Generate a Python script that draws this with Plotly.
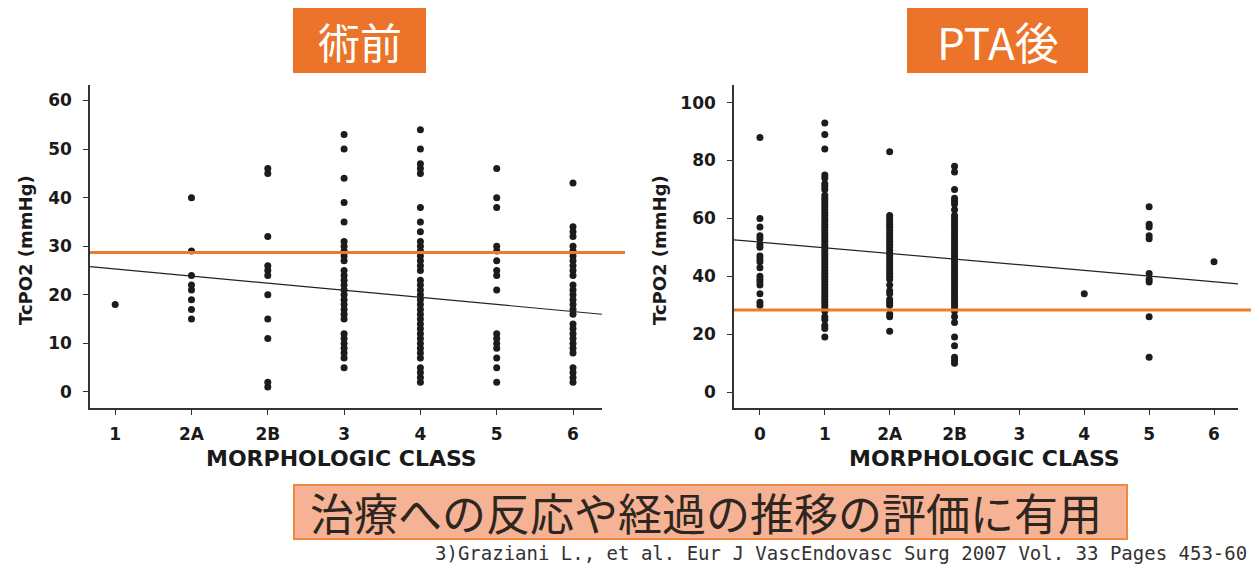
import plotly.graph_objects as go

W, H = 1251, 564

# ---------------- data: left panel (術前) ----------------
pre_classes = ["1", "2A", "2B", "3", "4", "5", "6"]
pre_1 = [18]
pre_2A = [40, 29, 24, 22, 21, 19, 17, 15]
pre_2B = [46, 45, 32, 26, 25, 24, 20, 15, 11, 2, 1]
pre_3 = [53, 50, 44, 39, 35, 31, 30, 29, 28, 27, 25, 24, 23, 22, 21, 20, 19, 18,
         17, 16, 15, 12, 11, 10, 9, 8, 7, 5]
pre_4 = [54, 50, 47, 46, 45, 38, 35, 33, 31, 30, 29, 28, 27, 26, 25, 23, 22, 21,
         20, 19, 18, 17, 16, 15, 14, 13, 12, 11, 10, 9, 8, 7, 5, 4, 3, 2]
pre_5 = [46, 40, 38, 30, 29, 27, 25, 24, 21, 12, 11, 10, 9, 7, 5, 2]
pre_6 = [43, 34, 33, 32, 30, 29, 28, 27, 26, 25, 24, 22, 21, 20, 19, 18, 17, 16,
         14, 13, 12, 11, 10, 9, 8, 5, 4, 3, 2]
pre_values = [pre_1, pre_2A, pre_2B, pre_3, pre_4, pre_5, pre_6]
pre_threshold = 28.7
pre_trend_x = [-0.33, 6.38]
pre_trend_y = [25.8, 16.0]

# ---------------- data: right panel (PTA後) ----------------
post_classes = ["0", "1", "2A", "2B", "3", "4", "5", "6"]
post_0 = [88, 60, 57, 54, 53, 51, 50, 47, 46, 45, 43, 40, 39, 38, 37, 34, 31, 30]
post_1 = [93, 89, 84, 75, 74, 72, 71, 70, 68, 67, 66, 65, 64, 63, 62, 61, 60, 59,
          58, 57, 56, 55, 54, 53, 52, 51, 50, 49, 48, 47, 46, 45, 44, 43, 42, 41,
          40, 39, 38, 37, 36, 35, 34, 33, 32, 31, 30, 29, 28, 26, 25, 23, 22, 19]
post_2A = [83, 61, 60, 59, 58, 57, 56, 55, 54, 53, 52, 51, 50, 49, 48, 47, 46, 45,
           44, 43, 42, 41, 40, 39, 37, 35, 34, 32, 31, 30, 27, 26, 21]
post_2B = [78, 76, 70, 67, 66, 65, 63, 61, 60, 59, 58, 57, 56, 55, 54, 53, 52, 51,
           50, 49, 48, 47, 46, 45, 44, 43, 42, 41, 40, 39, 38, 37, 36, 35, 34, 33,
           32, 31, 30, 29, 28, 26, 24, 19, 16, 12, 11, 10]
post_3 = []
post_4 = [34]
post_5 = [64, 58, 57, 54, 53, 41, 39, 38, 26, 12]
post_6 = [45]
post_values = [post_0, post_1, post_2A, post_2B, post_3, post_4, post_5, post_6]
post_threshold = 28.4
post_trend_x = [-0.40, 7.37]
post_trend_y = [52.6, 37.4]

pre_yticks = [0, 10, 20, 30, 40, 50, 60]
post_yticks = [0, 20, 40, 60, 80, 100]

# ---------------- helpers ----------------
def px(x):
    return x / W

def py(y):
    return 1 - y / H

FONT = "DejaVu Sans, Liberation Sans, sans-serif"
JP = "Noto Sans CJK JP, sans-serif"
DOT = "#1c1c1c"
ORANGE = "#EE7A2C"

fig = go.Figure()

def add_panel(classes, values, xa, ya):
    xs, ys = [], []
    for i, vals in enumerate(values):
        xs += [i] * len(vals)
        ys += vals
    fig.add_trace(go.Scatter(x=xs, y=ys, mode="markers", xaxis=xa, yaxis=ya,
                             marker=dict(size=7, color=DOT), showlegend=False,
                             hoverinfo="y"))

add_panel(pre_classes, pre_values, "x", "y")
add_panel(post_classes, post_values, "x2", "y2")

fig.add_trace(go.Scatter(x=pre_trend_x, y=pre_trend_y, mode="lines", xaxis="x", yaxis="y",
                         line=dict(color="#222", width=1.2), showlegend=False, hoverinfo="skip"))
fig.add_trace(go.Scatter(x=post_trend_x, y=post_trend_y, mode="lines", xaxis="x2", yaxis="y2",
                         line=dict(color="#222", width=1.2), showlegend=False, hoverinfo="skip"))

tickfont = dict(family=FONT, size=17, color="#1a1a1a", weight="bold")
common_x = dict(showgrid=False, zeroline=False, showline=True, linecolor="#333", linewidth=1.5,
                ticks="outside", ticklen=5, tickcolor="#333", tickfont=tickfont,
                ticklabelstandoff=5)
common_y = dict(showgrid=False, zeroline=False, showline=True, linecolor="#333", linewidth=1.5,
                ticks="outside", ticklen=5, tickcolor="#333", tickfont=tickfont,
                ticklabelstandoff=8)

fig.update_layout(
    width=W, height=H, margin=dict(l=0, r=0, t=0, b=0), autosize=False,
    paper_bgcolor="white", plot_bgcolor="white",
    xaxis=dict(domain=[px(90), px(602)], range=[-0.33, 6.38],
               tickvals=list(range(len(pre_classes))), ticktext=pre_classes,
               anchor="y", **common_x),
    yaxis=dict(domain=[py(408), py(85)], range=[-3.3, 63.2], tickvals=pre_yticks,
               anchor="x", **common_y),
    xaxis2=dict(domain=[px(734), px(1238)], range=[-0.40, 7.37],
                tickvals=list(range(len(post_classes))), ticktext=post_classes,
                anchor="y2", **common_x),
    yaxis2=dict(domain=[py(408), py(85)], range=[-5.5, 106.1], tickvals=post_yticks,
                anchor="x2", **common_y),
)

shapes = [
    # threshold lines
    dict(type="line", xref="paper", yref="y", x0=px(90), x1=px(625),
         y0=pre_threshold, y1=pre_threshold, line=dict(color=ORANGE, width=3), layer="above"),
    dict(type="line", xref="paper", yref="y2", x0=px(734), x1=1,
         y0=post_threshold, y1=post_threshold, line=dict(color=ORANGE, width=3), layer="above"),
    # title boxes
    dict(type="rect", xref="paper", yref="paper", x0=px(293), x1=px(426), y0=py(73), y1=py(8),
         fillcolor="#EB742A", line=dict(width=0), layer="below"),
    dict(type="rect", xref="paper", yref="paper", x0=px(907), x1=px(1088), y0=py(73), y1=py(8),
         fillcolor="#EB742A", line=dict(width=0), layer="below"),
    # bottom message box
    dict(type="rect", xref="paper", yref="paper", x0=px(294), x1=px(1127), y0=py(539), y1=py(485),
         fillcolor="#F5B295", line=dict(color="#F0873A", width=2), layer="below"),
]
fig.update_layout(shapes=shapes)

ann = [
    dict(text="術前", x=px(359.5), y=py(41), font=dict(family=JP, size=42, color="white")),
    dict(text="PTA後", x=px(997.5), y=py(41), font=dict(family=JP, size=44, color="white")),
    dict(text="TcPO2 (mmHg)", x=px(26), y=py(250), textangle=-90,
         font=dict(family=FONT, size=18, color="#1a1a1a", weight="bold")),
    dict(text="TcPO2 (mmHg)", x=px(660), y=py(250), textangle=-90,
         font=dict(family=FONT, size=18, color="#1a1a1a", weight="bold")),
    dict(text="MORPHOLOGIC CLASS", x=px(341), y=py(458),
         font=dict(family=FONT, size=22, color="#1a1a1a", weight="bold")),
    dict(text="MORPHOLOGIC CLASS", x=px(985), y=py(458),
         font=dict(family=FONT, size=22, color="#1a1a1a", weight="bold")),
    dict(text="治療への反応や経過の推移の評価に有用", x=px(308), y=py(512), xanchor="left",
         font=dict(family=JP, size=44, color="#2e2620")),
    dict(text="3)Graziani L., et al. Eur J VascEndovasc Surg 2007 Vol. 33 Pages 453-60",
         x=px(1249), y=py(553), xanchor="right",
         font=dict(family="DejaVu Sans Mono, monospace", size=19, color="#333")),
]
for a in ann:
    a.setdefault("xanchor", "center")
    a.setdefault("yanchor", "middle")
    a.update(xref="paper", yref="paper", showarrow=False)
fig.update_layout(annotations=ann)

fig.write_html("out.html")
